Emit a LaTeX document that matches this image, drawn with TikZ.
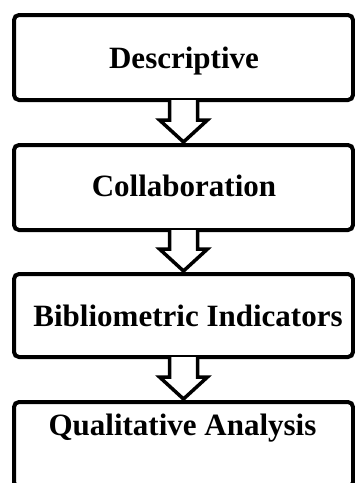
\documentclass[tikz,border=0pt]{standalone}
\usepackage{fontspec}
\setmainfont{Liberation Serif}
\usetikzlibrary{calc}
\tikzset{
  stepbox/.style={draw=black, fill=white, line width=4pt, rounded corners=5pt,
    outer sep=0pt, inner sep=0pt, minimum width=339pt, rectangle},
  steplabel/.style={anchor=base, inner sep=0pt,
    font=\fontsize{31}{31}\selectfont\bfseries},
  blockarrow/.style={draw=black, fill=white, line width=3.5pt, line join=miter}
}
% hollow block arrow from the bottom of one box to the top of the next
\newcommand\hollowarrow[2]{%
  \path (#1.south) coordinate (#1-s) (#2.north) coordinate (#2-n);
  \draw[blockarrow] ($(#1-s)+(-14,0)$) -- ($(#2-n)+(-14,-25)$)
    -- ($(#2-n)+(-24,-25)$) -- ($(#2-n)+(0,-3)$) -- ($(#2-n)+(24,-25)$)
    -- ($(#2-n)+(14,-25)$) -- ($(#1-s)+(14,0)$);
}
\begin{document}
\begin{tikzpicture}[x=1pt, y=-1pt]
  \useasboundingbox (0,0) rectangle (355,483);
  \clip (0,0) rectangle (355,483);

  \node[stepbox, minimum height=85pt] (b1) at (183.5,57.5) {};
  \node[stepbox, minimum height=85pt] (b2) at (183.5,187.5) {};
  \node[stepbox, minimum height=83pt] (b3) at (183.5,315.5) {};
  \node[stepbox, minimum height=85pt] (b4) at (183.5,444.5) {};

  \hollowarrow{b1}{b2}
  \hollowarrow{b2}{b3}
  \hollowarrow{b3}{b4}

  \node[steplabel] (t1) at (184,68) {Descriptive};
  \node[steplabel] (t2) at (184,196) {Collaboration};
  \node[steplabel] (t3) at (188,326) {Bibliometric Indicators};
  \node[steplabel] (t4) at (182.5,435) {Qualitative Analysis};
\end{tikzpicture}
\end{document}
